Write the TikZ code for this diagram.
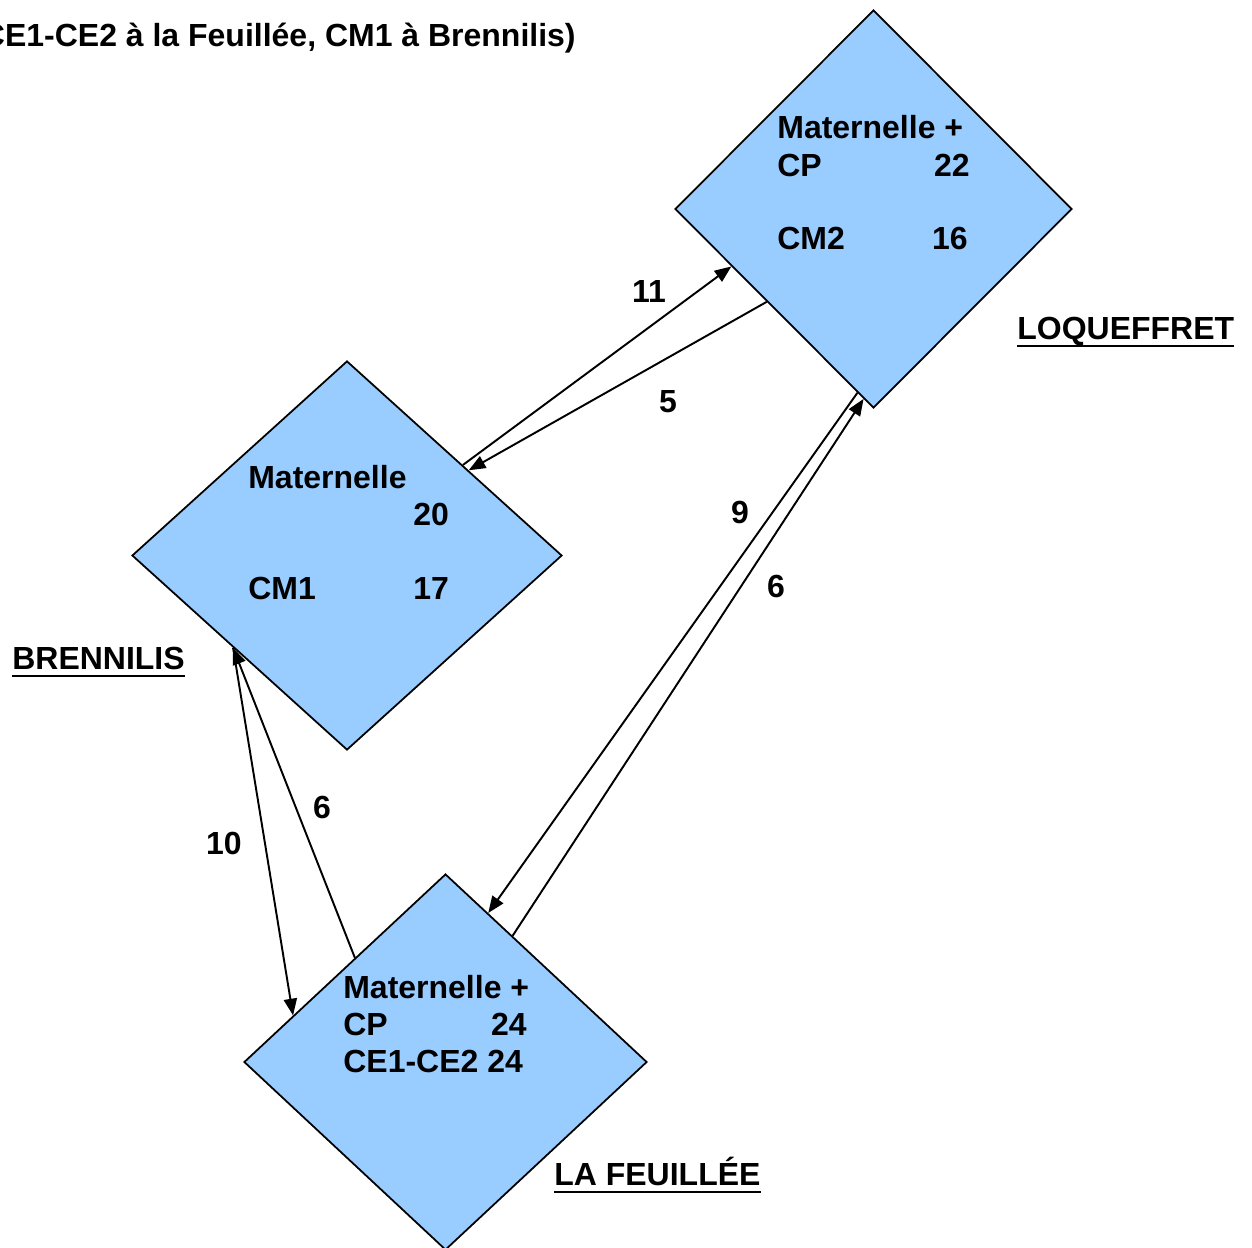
\documentclass[tikz,border=0pt]{standalone}
\usepackage{fontspec}
\setmainfont{Liberation Sans}
\usetikzlibrary{positioning,shapes.geometric,arrows.meta}
\definecolor{bleu}{HTML}{99CCFF}

\begin{document}
\begin{tikzpicture}[x=0.2mm,y=-0.2mm,
		ecole/.style={diamond, draw, line width=1pt, fill=bleu, inner sep=0pt},
		txt/.style={inner sep=0pt, font=\fontsize{18.2}{21}\selectfont\bfseries},
		souligne/.style={line width=1.6pt},
		trajet/.style={-{Triangle[length=9.5pt,width=7.5pt]}, line width=1.1pt}]
		\useasboundingbox (0,0) rectangle (1252,1247);
		
		\node[txt, anchor=base east] (titre) at (576,46) {CE1-CE2 à la Feuillée, CM1 à Brennilis)};
		
		% les trois ecoles
		\node[ecole, minimum width=79.4mm, minimum height=79.6mm] (loq) at (873.5,209) {};
		\node[ecole, minimum width=86mm, minimum height=77.8mm] (bre) at (347,555.5) {};
		\node[ecole, minimum width=80.6mm, minimum height=75.2mm] (laf) at (445.5,1062) {};
		
		\node[txt, anchor=base west] (loqmat) at (777,138) {Maternelle +};
		\node[txt, anchor=base west] (loqcp) at (777,176) {CP};
		\node[txt, anchor=base east] (loqcpn) at (970,176) {22};
		\node[txt, anchor=base west] (loqcm) at (777,249) {CM2};
		\node[txt, anchor=base east] (loqcmn) at (968,249) {16};
		\node[txt, anchor=base west] (loqnom) at (1017,339) {LOQUEFFRET};
		\draw[souligne] ([yshift=-4pt]loqnom.base west) -- ([yshift=-4pt]loqnom.base east);
		
		\node[txt, anchor=base west] (bremat) at (248,488) {Maternelle};
		\node[txt, anchor=base west] (brematn) at (413,525) {20};
		\node[txt, anchor=base west] (brecm) at (248,599) {CM1};
		\node[txt, anchor=base west] (brecmn) at (413,599) {17};
		\node[txt, anchor=base west] (brenom) at (12,669) {BRENNILIS};
		\draw[souligne] ([yshift=-4pt]brenom.base west) -- ([yshift=-4pt]brenom.base east);
		
		\node[txt, anchor=base west] (lafmat) at (343,998) {Maternelle +};
		\node[txt, anchor=base west] (lafcp) at (343,1035) {CP};
		\node[txt, anchor=base east] (lafcpn) at (527,1035) {24};
		\node[txt, anchor=base west] (lafce) at (343,1072) {CE1-CE2 24};
		\node[txt, anchor=base west] (lafnom) at (554,1185) {LA FEUILLÉE};
		\draw[souligne] ([yshift=-4pt]lafnom.base west) -- ([yshift=-4pt]lafnom.base east);
		
		% trajets
		\draw[trajet] (bre.38) -- (loq.202);
		\draw[trajet] (loq.221) -- (bre.35);
		\draw[trajet] (loq.265) -- (laf.74);
		\draw[trajet] (laf.62) -- (loq.267);
		\draw[trajet] (bre.219) -- (laf.163);
		\draw[trajet] (laf.131) -- (bre.219);
		
		\node[txt] (n11) at (649,291) {11};
		\node[txt] (n5) at (668,402) {5};
		\node[txt] (n9) at (740,512) {9};
		\node[txt] (n6a) at (776,586) {6};
		\node[txt] (n6b) at (322,807) {6};
		\node[txt] (n10) at (224,843) {10};
	\end{tikzpicture}
\end{document}
